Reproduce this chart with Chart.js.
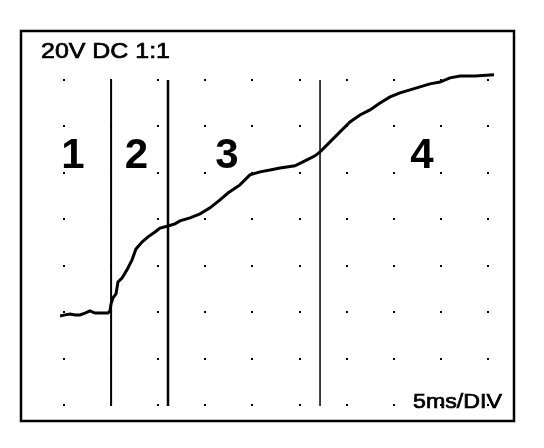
<!DOCTYPE html>
<html><head><meta charset="utf-8">
<style>html,body{margin:0;padding:0;background:#fff}#wrap{width:544px;height:448px}</style>
<script src="https://cdn.jsdelivr.net/npm/chart.js"></script>
</head>
<body><div id="wrap"><canvas id="c" width="544" height="448"></canvas></div>
<script>
// Trace samples: time in ms, voltage in V (20 V/div, 5 ms/div)
const timeMs = [-0.42,0.11,0.64,1.17,1.70,2.23,2.76,3.29,3.82,4.67,4.88,4.99,5.20,5.52,5.73,6.16,6.69,7.22,7.64,8.28,8.92,9.66,10.19,11.04,11.78,12.31,13.38,14.44,15.50,16.56,17.41,18.68,19.74,20.81,21.87,22.93,24.52,25.58,26.65,27.18,28.24,29.30,30.36,31.42,32.48,33.55,34.61,35.67,36.73,37.79,38.85,39.92,40.98,42.04,43.63,45.65];
const volts  = [38.3,38.8,39.2,38.8,38.8,39.6,40.5,39.6,39.6,39.6,40.5,43.5,46.1,47.8,53.0,54.7,58.2,62.5,67.2,70.2,72.4,74.5,76.2,77.1,78.0,79.3,80.6,82.3,84.9,88.3,91.3,94.8,99.1,100.4,101.2,102.1,103.0,105.1,107.3,109.0,113.3,117.6,121.9,124.9,127.1,130.1,132.7,134.4,135.7,137.0,138.3,139.1,140.9,141.7,141.7,142.2];
const gridTimes = [0,5,10,15,20,25,30,35,40,45];
const gridVolts = [0,20,40,60,80,100,120,140];
const cursorTimes = [5.0, 11.04, 27.18];
const regionLabels = ['1','2','3','4'];
const regionLabelTimes = [0.96, 7.7, 17.3, 38.0];
const regionLabelVolt = 102.1;
const rangeLabel = '20V DC 1:1';
const timebaseLabel = '5ms/DIV';

const points = timeMs.map((t,i)=>({x:t,y:volts[i]}));

function fitText(ctx, text, x, y, width, align){
  const w = ctx.measureText(text).width;
  const s = width / w;
  ctx.save();
  ctx.translate(x, y);
  ctx.scale(s, 1);
  ctx.textAlign = 'left';
  const ox = align === 'right' ? -w : 0;
  ctx.fillText(text, ox, 0);
  ctx.lineWidth = 0.7;
  ctx.strokeText(text, ox, 0);
  ctx.restore();
}

const scopePlugin = {
  id: 'scope',
  beforeDatasetsDraw(chart){
    const {ctx, chartArea:a, scales:{x, y}} = chart;
    ctx.save();
    ctx.fillStyle = '#000';
    gridTimes.forEach(t=>{
      gridVolts.forEach(v=>{
        const px = Math.round(x.getPixelForValue(t)), py = Math.round(y.getPixelForValue(v));
        ctx.fillRect(px-1, py-1, 2, 2);
      });
    });
    const widths = [2, 2.5, 1.5];
    const yTop = y.getPixelForValue(gridVolts[gridVolts.length-1]);
    const yBot = y.getPixelForValue(gridVolts[0]);
    ctx.strokeStyle = '#000';
    cursorTimes.forEach((t,i)=>{
      const px = x.getPixelForValue(t);
      ctx.lineWidth = widths[i];
      ctx.beginPath(); ctx.moveTo(px, yTop); ctx.lineTo(px, yBot+1); ctx.stroke();
    });
    ctx.font = 'bold 42px "Liberation Sans", Arial, sans-serif';
    ctx.textAlign = 'center';
    ctx.textBaseline = 'alphabetic';
    regionLabels.forEach((s,i)=>{
      ctx.fillText(s, x.getPixelForValue(regionLabelTimes[i]), y.getPixelForValue(regionLabelVolt));
    });
    ctx.restore();
  },
  afterDraw(chart){
    const {ctx, chartArea:a} = chart;
    ctx.save();
    ctx.strokeStyle = '#000';
    ctx.lineWidth = 2.5;
    ctx.strokeRect(a.left+1, a.top+1, a.right-a.left-1, a.bottom-a.top-1);
    ctx.fillStyle = '#000';
    ctx.textBaseline = 'alphabetic';
    ctx.font = '22px "Liberation Sans", Arial, sans-serif';
    fitText(ctx, rangeLabel, a.left+21, a.top+28, 129, 'left');
    ctx.font = '21px "Liberation Sans", Arial, sans-serif';
    fitText(ctx, timebaseLabel, a.right-12, a.bottom-13, 89, 'right');
    ctx.restore();
  }
};

new Chart(document.getElementById('c'), {
  type: 'line',
  data: { datasets: [{ data: points, borderColor:'#000', borderWidth:3, pointRadius:0, tension:0, fill:false }] },
  options: {
    responsive:false, animation:false, devicePixelRatio:1,
    layout:{ padding:{ left:20, top:30, right:30, bottom:27 } },
    scales:{
      x:{ type:'linear', min:-4.67, max:47.77, display:false },
      y:{ type:'linear', min:-6.9, max:161.5, display:false }
    },
    plugins:{ legend:{display:false}, tooltip:{enabled:false} }
  },
  plugins:[scopePlugin]
});
</script>
</body></html>
